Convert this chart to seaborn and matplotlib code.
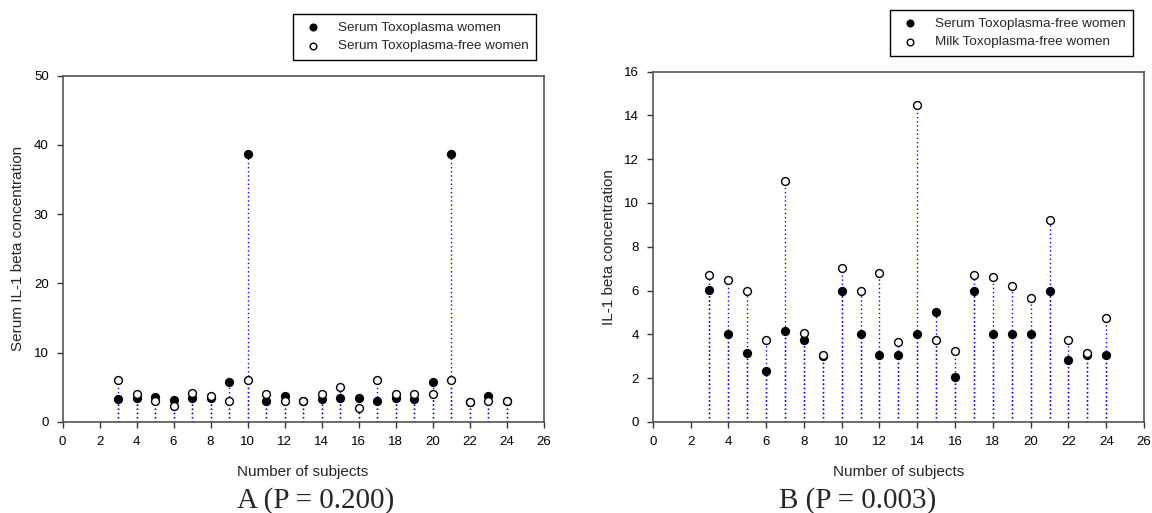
import numpy as np
import pandas as pd
import matplotlib
matplotlib.use("Agg")
import matplotlib.pyplot as plt
import seaborn as sns


SUBJECTS = list(range(3, 25))

# panel A
A_TOXO = [3.36, 3.4, 3.55, 3.2, 3.46, 3.5, 5.76, 38.7, 2.98, 3.7, 3.0,
          3.3, 3.46, 3.46, 3.1, 3.4, 3.36, 5.76, 38.7, 2.9, 3.7, 3.0]
A_FREE = [6.05, 4.03, 3.1, 2.3, 4.2, 3.8, 3.0, 6.05, 4.08, 3.0, 2.98,
          4.08, 5.04, 2.06, 6.05, 4.08, 4.08, 4.08, 6.05, 2.88, 3.0, 3.0]

# panel B
B_SERUM = [6.02, 4.02, 3.13, 2.34, 4.15, 3.74, 3.0, 6.0, 4.0, 3.04, 3.04,
           4.0, 5.03, 2.04, 6.0, 4.0, 4.0, 4.0, 6.0, 2.84, 3.04, 3.04]
B_MILK = [6.73, 6.5, 6.0, 3.74, 11.02, 4.04, 3.04, 7.03, 6.0, 6.82, 3.66,
          14.49, 3.74, 3.22, 6.73, 6.61, 6.2, 5.64, 9.22, 3.74, 3.16, 4.74]

A_LABELS = ["Serum Toxoplasma women", "Serum Toxoplasma-free women"]
B_LABELS = ["Serum Toxoplasma-free women", "Milk Toxoplasma-free women"]

X_TICKS = list(range(0, 27, 2))
A_Y_TICKS = list(range(0, 51, 10))
B_Y_TICKS = list(range(0, 17, 2))

SANS = ["Liberation Sans", "DejaVu Sans"]
SERIF = ["Liberation Serif", "DejaVu Serif"]


def draw_panel(ax, filled, hollow, labels, yticks, ylabel, legend_box):
    df = pd.DataFrame({"subject": SUBJECTS, "filled": filled, "hollow": hollow})

    # dotted drop lines, one set per series
    for col in ["filled", "hollow"]:
        ax.vlines(df["subject"], 0, df[col], colors="#0000ff",
                  linestyles=(0, (1, 2)), linewidth=1.0, zorder=1)

    sns.scatterplot(data=df, x="subject", y="filled", ax=ax, color="black",
                    edgecolor="black", s=32, linewidth=1, zorder=3, label=labels[0])
    sns.scatterplot(data=df, x="subject", y="hollow", ax=ax, color="white",
                    edgecolor="black", s=32, linewidth=1, zorder=4, label=labels[1])

    ax.set_xlim(0, 26)
    ax.set_ylim(0, yticks[-1])
    ax.set_xticks(X_TICKS)
    ax.set_yticks(yticks)
    ax.tick_params(direction="out", length=4, width=1, colors="#333333",
                   labelsize=9.5, labelcolor="black", pad=6)
    for lab in ax.get_xticklabels() + ax.get_yticklabels():
        lab.set_family(SANS)
    for sp in ax.spines.values():
        sp.set_color("#555555")
        sp.set_linewidth(1.2)

    ax.set_xlabel("Number of subjects", family=SANS, fontsize=11, labelpad=12)
    ax.set_ylabel(ylabel, family=SANS, fontsize=11, labelpad=6)

    handles, lbls = ax.get_legend_handles_labels()
    leg = ax.legend(handles, lbls, loc="upper left", bbox_to_anchor=legend_box,
                    bbox_transform=ax.figure.transFigure, frameon=True,
                    fancybox=False, edgecolor="black", framealpha=1,
                    prop={"family": SANS, "size": 9.7}, handletextpad=1.0,
                    borderpad=0.55, labelspacing=0.45, markerscale=0.85,
                    handlelength=1.8, borderaxespad=0)
    leg.get_frame().set_linewidth(1.0)


def main() -> None:
    sns.set_style("ticks")
    plt.rcParams["font.family"] = SANS

    fig = plt.figure(figsize=(11.52, 5.13), dpi=100)
    ax_a = fig.add_axes([0.0543, 0.1774, 0.4175, 0.6754])
    ax_b = fig.add_axes([0.5666, 0.1774, 0.4265, 0.6832])

    draw_panel(ax_a, A_TOXO, A_FREE, A_LABELS, A_Y_TICKS,
               "Serum IL-1 beta concentration", (293 / 1152, 1 - 14 / 513))
    draw_panel(ax_b, B_SERUM, B_MILK, B_LABELS, B_Y_TICKS,
               "IL-1 beta concentration", (890 / 1152, 1 - 10 / 513))

    fig.text(316 / 1152, 1 - 501 / 513, "A (P = 0.200)", ha="center",
             va="center", family=SERIF, fontsize=21)
    fig.text(858 / 1152, 1 - 501 / 513, "B (P = 0.003)", ha="center",
             va="center", family=SERIF, fontsize=21)

    fig.savefig("out.png", dpi=100)
    plt.close(fig)


if __name__ == "__main__":
    main()
